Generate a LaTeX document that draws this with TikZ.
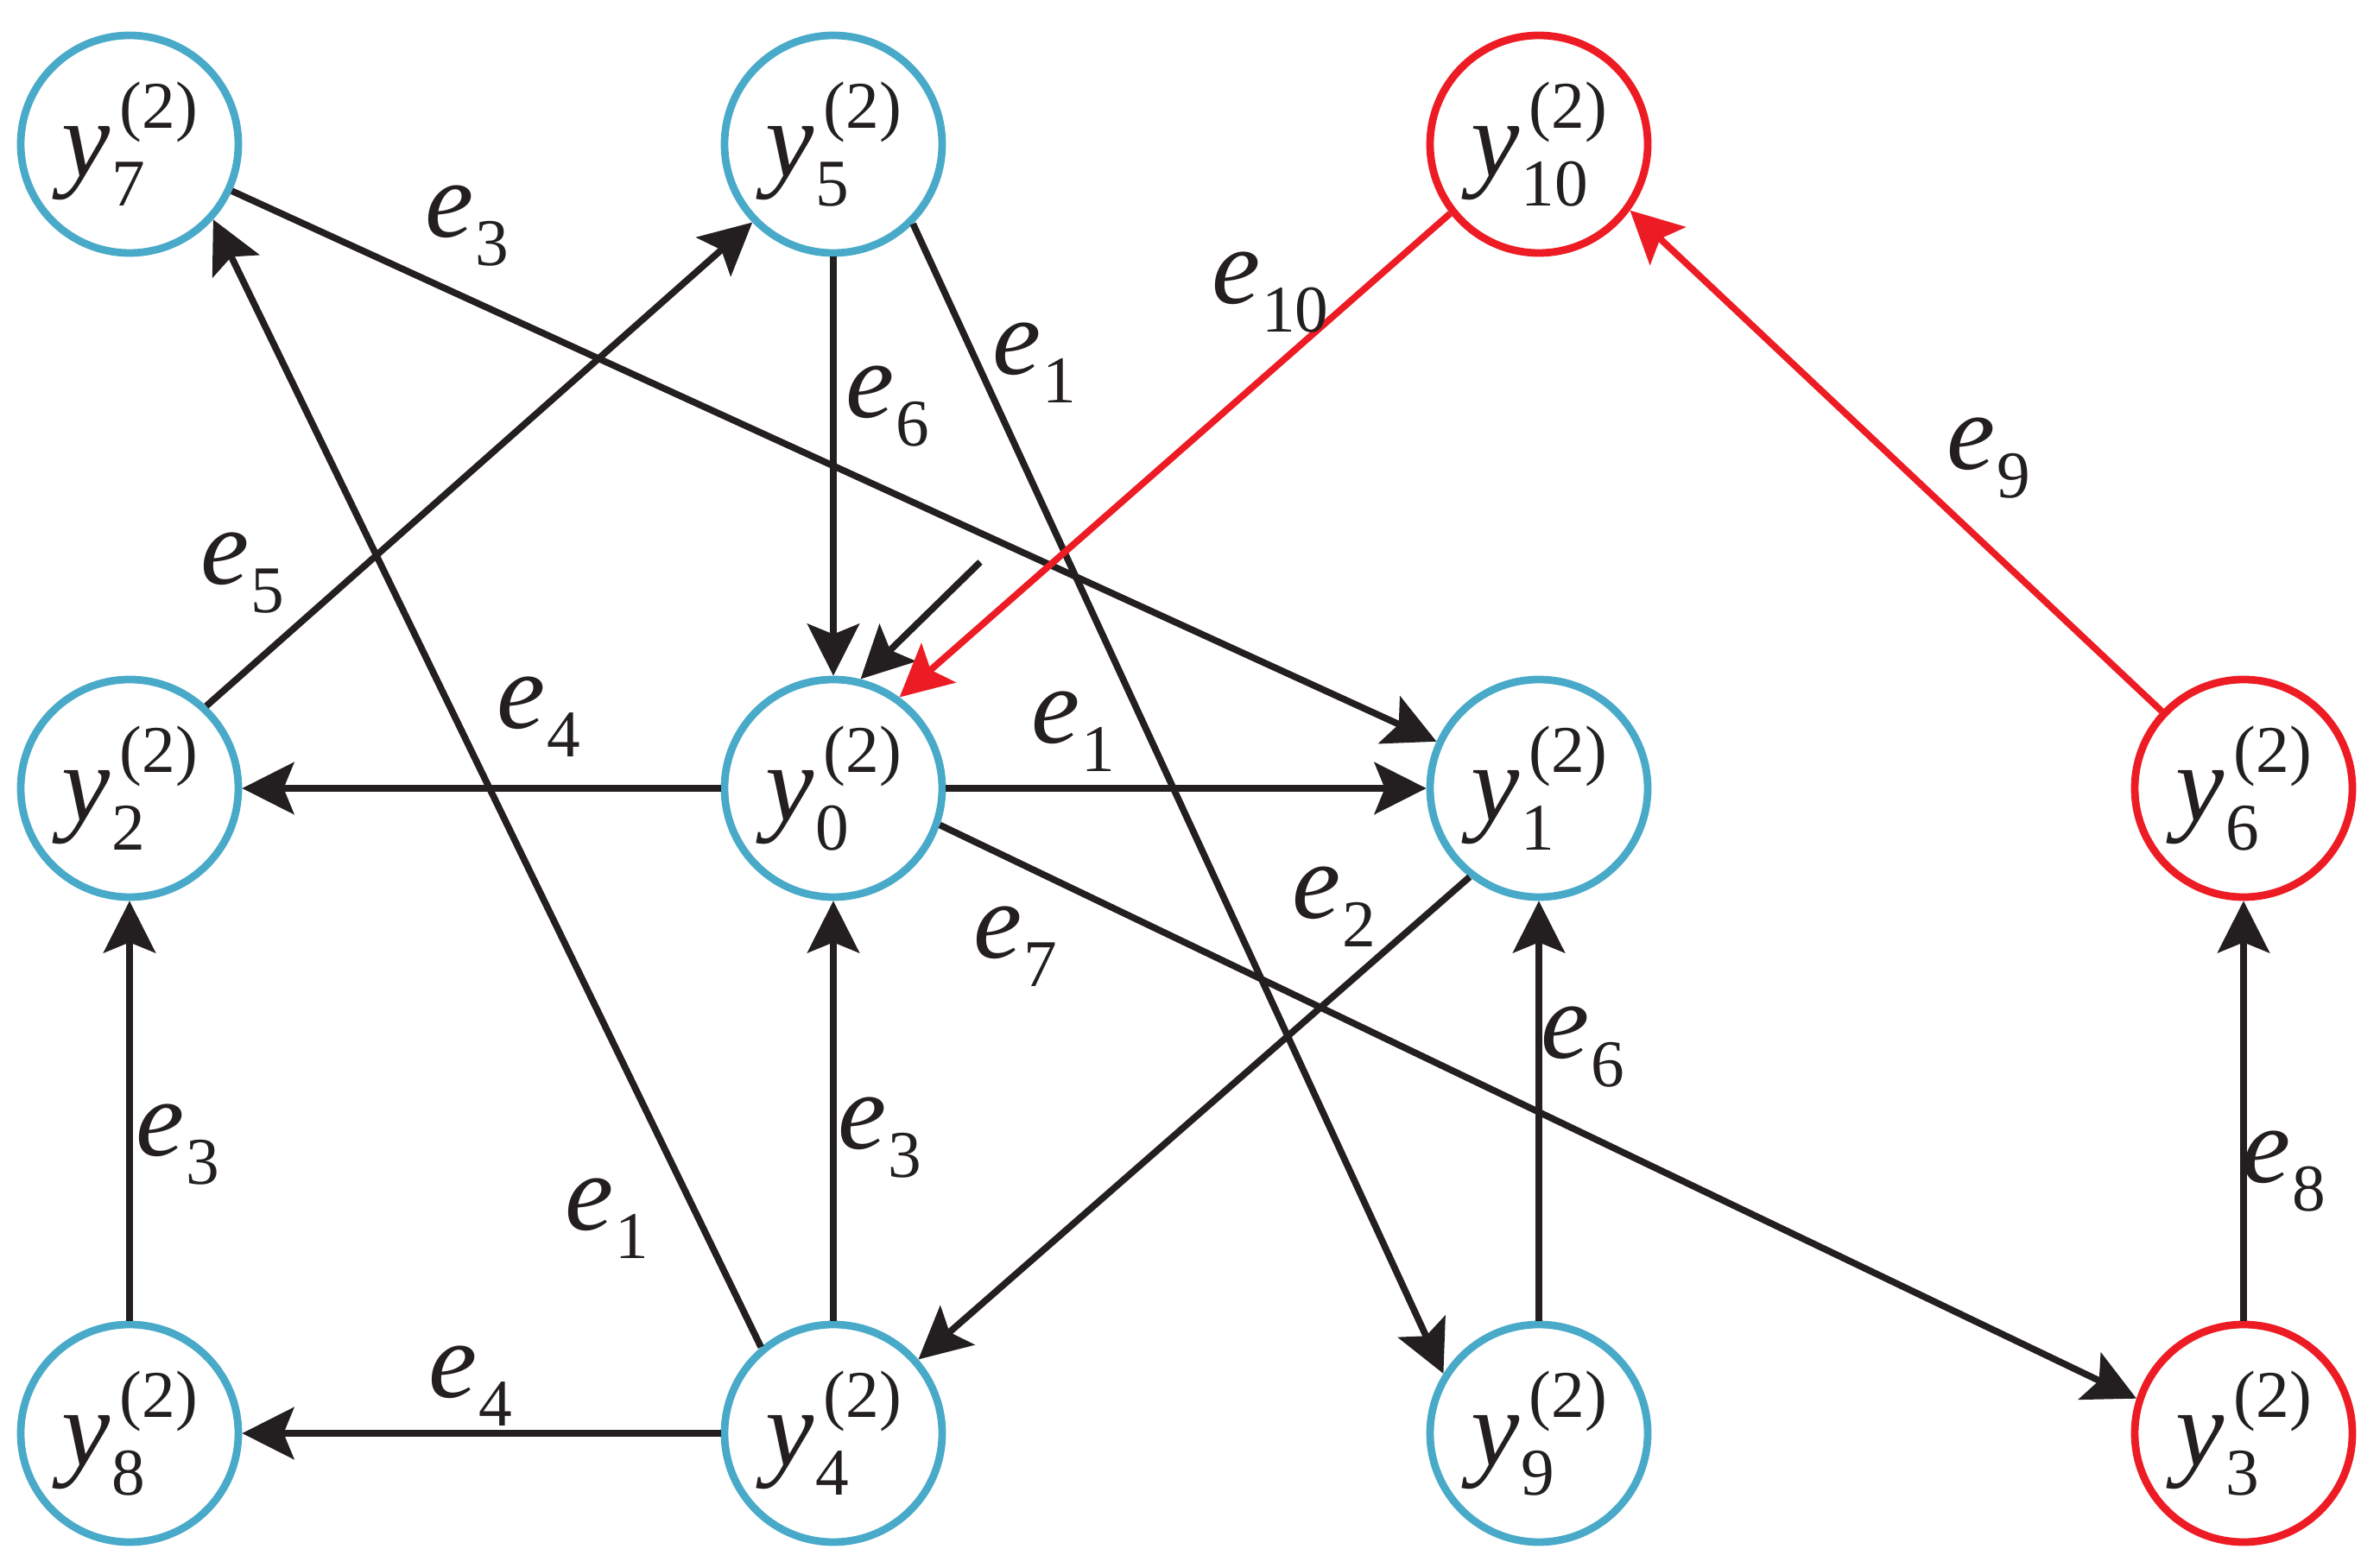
\documentclass[tikz,border=0pt]{standalone}
\usepackage{fontspec}
\setmainfont{Liberation Serif}
\usetikzlibrary{arrows.meta}
\definecolor{nodeblue}{RGB}{72,170,200}
\definecolor{nodered}{RGB}{237,28,36}
\definecolor{ink}{RGB}{35,31,32}
\newcommand{\scr}{\fontsize{22}{22}\selectfont}
\newcommand{\yv}[1]{\textit{y}\kern0.02em\rlap{\raisebox{-0.27em}{\scr #1}}\kern0.07em\raisebox{0.44em}{\scr (2)}}
\newcommand{\ev}[1]{\textit{e}\kern0.01em\raisebox{-0.26em}{\scr #1}}

\begin{document}
\begin{tikzpicture}[
    state/.style={circle, draw=nodeblue, line width=2.5pt, minimum size=2.52cm, inner sep=0pt, text=ink, font=\fontsize{36}{43}\selectfont},
    hstate/.style={state, draw=nodered},
    lbl/.style={inner sep=0pt, text=ink, font=\fontsize{36}{43}\selectfont},
    rel/.style={-{Stealth[length=6mm, width=6mm, inset=1.2mm]}, line width=2.2pt, color=ink},
    hrel/.style={rel, color=nodered}
]
    \useasboundingbox (0,0) rectangle (27.56,18.15);

    % Nodes
    \node[state] (y7) at (1.50,16.48) {\yv{7}};
    \node[state] (y5) at (9.65,16.48) {\yv{5}};
    \node[hstate] (y10) at (17.82,16.48) {\yv{10}};
    \node[state] (y2) at (1.50,9.02) {\yv{2}};
    \node[state] (y0) at (9.65,9.02) {\yv{0}};
    \node[state] (y1) at (17.82,9.02) {\yv{1}};
    \node[hstate] (y6) at (25.98,9.02) {\yv{6}};
    \node[state] (y8) at (1.50,1.55) {\yv{8}};
    \node[state] (y4) at (9.65,1.55) {\yv{4}};
    \node[state] (y9) at (17.82,1.55) {\yv{9}};
    \node[hstate] (y3) at (25.98,1.55) {\yv{3}};
    \coordinate (hint) at (11.35,11.64);

    % Relations
    \draw[rel] (y7) -- (y1);
    \draw[rel] (y4.130) -- (y7.-42);
    \draw[rel] (y2.47) -- (y5.-136);
    \draw[rel] (y5) -- (y0);
    \draw[rel] (y5.-45) -- (y9.148);
    \draw[rel] (hint) -- (y0.76);
    \draw[hrel] (y10.218) -- (y0.54);
    \draw[hrel] (y6) -- (y10.-36);
    \draw[rel] (y0) -- (y2);
    \draw[rel] (y0) -- (y1);
    \draw[rel] (y0.-19) -- (y3.162);
    \draw[rel] (y1.-128) -- (y4.41);
    \draw[rel] (y9) -- (y1);
    \draw[rel] (y4) -- (y0);
    \draw[rel] (y8) -- (y2);
    \draw[rel] (y4) -- (y8);
    \draw[rel] (y3) -- (y6);

    % Labels
    \node[lbl] (l73) at (5.41,15.53) {\ev{3}};
    \node[lbl] (l47) at (7.03,4.04) {\ev{1}};
    \node[lbl] (l25) at (2.81,11.51) {\ev{5}};
    \node[lbl] (l50) at (10.28,13.44) {\ev{6}};
    \node[lbl] (l59) at (11.98,13.95) {\ev{1}};
    \node[lbl] (l100) at (14.71,14.76) {\ev{10}};
    \node[lbl] (l610) at (23.03,12.84) {\ev{9}};
    \node[lbl] (l02) at (6.24,9.85) {\ev{4}};
    \node[lbl] (l01) at (12.43,9.68) {\ev{1}};
    \node[lbl] (l03) at (11.76,7.19) {\ev{7}};
    \node[lbl] (l14) at (15.45,7.65) {\ev{2}};
    \node[lbl] (l91) at (18.33,6.02) {\ev{6}};
    \node[lbl] (l40) at (10.19,4.97) {\ev{3}};
    \node[lbl] (l82) at (2.06,4.89) {\ev{3}};
    \node[lbl] (l48) at (5.45,2.10) {\ev{4}};
    \node[lbl] (l36) at (26.45,4.58) {\ev{8}};
\end{tikzpicture}
\end{document}
